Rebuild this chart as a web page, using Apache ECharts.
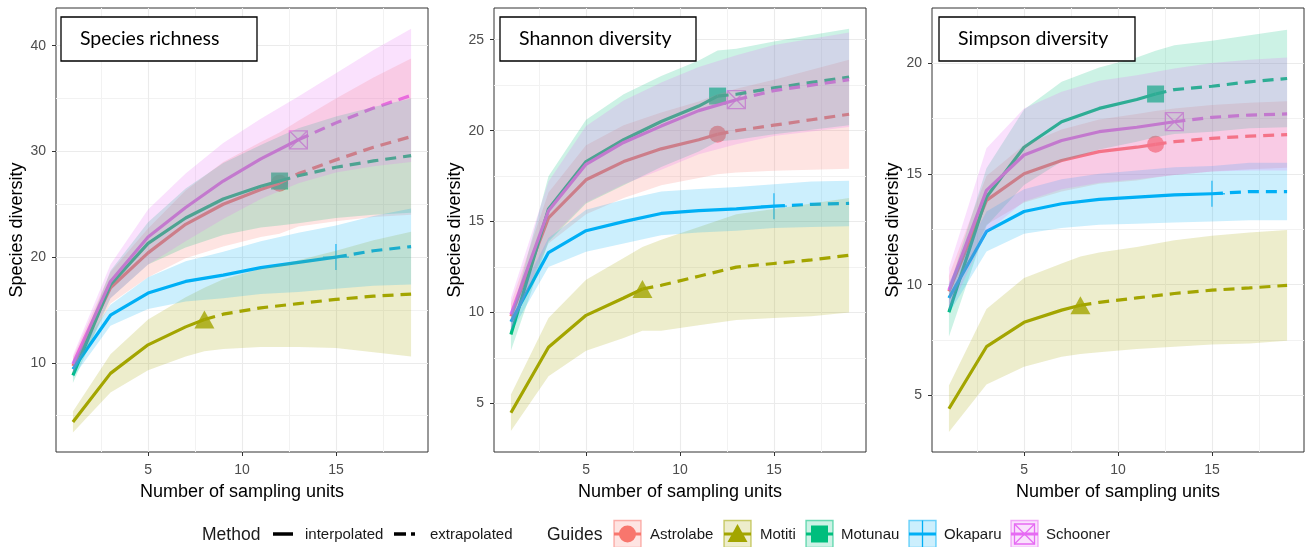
<!DOCTYPE html>
<html><head><meta charset="utf-8">
<script src="https://cdn.jsdelivr.net/npm/echarts@6/dist/echarts.min.js"></script>
<style>html,body{margin:0;padding:0;background:#fff}#chart{width:1309px;height:547px}</style>
</head><body><div id="chart"></div>
<script>
// ---------------- data ----------------
const guides = ['Astrolabe', 'Motiti', 'Motunau', 'Okaparu', 'Schooner'];
const guideColors = ['#F8766D', '#A3A500', '#00BF7D', '#00B0F6', '#E76BF3'];
const observedN = [12, 8, 12, 15, 13];
const samplingUnits = [
  [1, 3, 5, 7, 9, 11, 12, 13, 15, 17, 19],
  [1, 3, 5, 7, 8, 9, 11, 13, 15, 17, 19],
  [1, 3, 5, 7, 9, 11, 12, 13, 15, 17, 19],
  [1, 3, 5, 7, 9, 11, 13, 15, 17, 19],
  [1, 3, 5, 7, 9, 11, 13, 15, 17, 19]
];
const panelTitles = ['Species richness', 'Shannon diversity', 'Simpson diversity'];
const methodLabels = ['interpolated', 'extrapolated'];

const richnessMean = [
  [9.7, 17.1, 20.4, 23.1, 25.0, 26.4, 27.0, 27.9, 29.2, 30.4, 31.4],
  [4.4, 9.0, 11.7, 13.4, 14.1, 14.6, 15.2, 15.6, 16.0, 16.3, 16.5],
  [8.8, 17.4, 21.3, 23.7, 25.5, 26.7, 27.2, 27.7, 28.5, 29.1, 29.6],
  [9.4, 14.5, 16.6, 17.7, 18.3, 19.0, 19.5, 20.0, 20.6, 21.0],
  [9.9, 17.7, 21.9, 24.7, 27.2, 29.3, 31.1, 32.7, 34.1, 35.3]
];
const richnessLower = [
  [8.9, 15.6, 18.1, 19.9, 21.0, 21.9, 22.2, 22.9, 23.4, 23.8, 24.0],
  [3.4, 7.2, 9.3, 10.6, 11.1, 11.3, 11.5, 11.5, 11.4, 11.0, 10.6],
  [8.1, 16.1, 19.3, 20.9, 22.1, 22.8, 23.0, 23.2, 23.7, 24.0, 24.2],
  [8.6, 13.5, 15.1, 15.8, 16.1, 16.5, 16.7, 17.0, 17.3, 17.4],
  [9.1, 16.1, 19.3, 21.5, 23.6, 25.5, 27.0, 28.0, 28.6, 29.0]
];
const richnessUpper = [
  [10.5, 18.6, 22.7, 26.3, 29.0, 30.9, 31.8, 32.9, 35.0, 37.0, 38.8],
  [5.4, 10.8, 14.1, 16.2, 17.1, 17.9, 18.9, 19.7, 20.6, 21.6, 22.4],
  [9.5, 18.7, 23.3, 26.5, 28.9, 30.6, 31.4, 32.2, 33.3, 34.2, 35.0],
  [10.2, 15.5, 18.1, 19.6, 20.5, 21.5, 22.3, 23.0, 23.9, 24.6],
  [10.7, 19.3, 24.5, 27.9, 30.8, 33.1, 35.2, 37.4, 39.6, 41.6]
];

const shannonMean = [
  [9.8, 15.2, 17.3, 18.3, 19.0, 19.5, 19.8, 20.0, 20.3, 20.6, 20.9],
  [4.5, 8.1, 9.85, 10.8, 11.3, 11.5, 12.0, 12.5, 12.7, 12.9, 13.15],
  [8.8, 15.7, 18.3, 19.5, 20.5, 21.35, 21.9, 22.0, 22.35, 22.65, 22.95],
  [9.5, 13.3, 14.5, 15.0, 15.45, 15.6, 15.7, 15.85, 15.95, 16.0],
  [9.9, 15.6, 18.15, 19.35, 20.25, 21.1, 21.7, 22.2, 22.5, 22.8]
];
const shannonLower = [
  [9.1, 13.8, 15.4, 16.3, 17.0, 17.4, 17.6, 17.7, 17.8, 17.85, 17.9],
  [3.5, 6.5, 7.9, 8.6, 9.0, 9.0, 9.3, 9.6, 9.7, 9.8, 10.0],
  [7.9, 13.9, 16.0, 17.0, 18.0, 18.85, 19.4, 19.5, 19.8, 20.05, 20.3],
  [8.9, 12.5, 13.35, 13.8, 14.25, 14.4, 14.5, 14.65, 14.7, 14.75],
  [9.0, 14.0, 16.05, 17.05, 17.85, 18.7, 19.25, 19.7, 19.95, 20.2]
];
const shannonUpper = [
  [10.5, 16.6, 19.2, 20.3, 21.0, 21.6, 22.0, 22.3, 22.8, 23.35, 23.9],
  [5.5, 9.7, 11.8, 13.0, 13.6, 14.0, 14.7, 15.4, 15.7, 16.0, 16.3],
  [9.7, 17.5, 20.6, 22.0, 23.0, 23.85, 24.4, 24.5, 24.9, 25.25, 25.6],
  [10.1, 14.1, 15.65, 16.2, 16.65, 16.8, 16.9, 17.05, 17.2, 17.25],
  [10.8, 17.2, 20.25, 21.65, 22.65, 23.5, 24.15, 24.7, 25.05, 25.4]
];

const simpsonMean = [
  [9.7, 13.8, 15.0, 15.6, 16.0, 16.2, 16.33, 16.45, 16.6, 16.7, 16.77],
  [4.4, 7.2, 8.3, 8.85, 9.07, 9.2, 9.4, 9.6, 9.75, 9.85, 9.97],
  [8.75, 13.95, 16.2, 17.35, 17.95, 18.35, 18.6, 18.8, 18.95, 19.15, 19.3],
  [9.4, 12.4, 13.3, 13.65, 13.85, 13.95, 14.05, 14.1, 14.2, 14.2],
  [9.75, 14.25, 15.85, 16.5, 16.9, 17.1, 17.35, 17.55, 17.65, 17.7]
];
const simpsonLower = [
  [9.0, 12.7, 13.7, 14.2, 14.55, 14.7, 14.83, 14.95, 15.1, 15.2, 15.27],
  [3.35, 5.5, 6.3, 6.75, 6.87, 6.95, 7.1, 7.2, 7.3, 7.35, 7.47],
  [7.65, 12.65, 14.5, 15.55, 16.1, 16.45, 16.65, 16.8, 16.9, 17.05, 17.1],
  [8.7, 11.5, 12.3, 12.55, 12.7, 12.75, 12.8, 12.85, 12.9, 12.9],
  [8.75, 12.35, 13.75, 14.3, 14.6, 14.75, 14.95, 15.1, 15.15, 15.15]
];
const simpsonUpper = [
  [10.4, 14.9, 16.3, 17.0, 17.45, 17.7, 17.83, 17.95, 18.1, 18.2, 18.27],
  [5.45, 8.9, 10.3, 10.95, 11.27, 11.45, 11.7, 12.0, 12.2, 12.35, 12.47],
  [9.85, 15.25, 17.9, 19.15, 19.8, 20.25, 20.55, 20.8, 21.0, 21.25, 21.5],
  [10.1, 13.3, 14.3, 14.75, 15.0, 15.15, 15.3, 15.35, 15.5, 15.5],
  [10.75, 16.15, 17.95, 18.7, 19.2, 19.45, 19.75, 20.0, 20.15, 20.25]
];

const xTicks = [5, 10, 15];
const xMinorTicks = [2.5, 7.5, 12.5, 17.5];
const yTicks = [[10, 20, 30, 40], [5, 10, 15, 20, 25], [5, 10, 15, 20]];
const yMinorTicks = [[5, 15, 25, 35], [7.5, 12.5, 17.5, 22.5], [7.5, 12.5, 17.5]];

// ---------------- layout ----------------
const X_RANGE = [0.1, 19.9];
const Y_RANGES = [[1.56, 43.57], [2.34, 26.74], [2.45, 22.48]];
const GRID_LEFT = [56, 494, 932];
const GRID_TOP = 8, GRID_W = 372, GRID_H = 444;
const AXFONT = '"Liberation Sans", Arial, sans-serif';

const panelMeans = [richnessMean, shannonMean, simpsonMean];
const panelLowers = [richnessLower, shannonLower, simpsonLower];
const panelUppers = [richnessUpper, shannonUpper, simpsonUpper];

const PLUS = 'path://M12,0L12,24M0,12L24,12';
const BOXX = 'path://M0,0L24,0L24,24L0,24ZM0,0L24,24M24,0L0,24';
const guideSymbols = ['circle', 'triangle', 'rect', PLUS, BOXX];
const guideSymbolSizes = [17, [20, 18], 17, 26, 18];
const hollow = [false, false, false, true, true];

function rgba(hex, a) {
  const v = parseInt(hex.slice(1), 16);
  return 'rgba(' + ((v >> 16) & 255) + ',' + ((v >> 8) & 255) + ',' + (v & 255) + ',' + a + ')';
}

const grids = [], xAxes = [], yAxes = [], series = [];
for (let p = 0; p < 3; p++) {
  grids.push({left: GRID_LEFT[p], top: GRID_TOP, width: GRID_W, height: GRID_H,
    show: true, borderColor: '#333', borderWidth: 1, backgroundColor: '#fff'});
  xAxes.push({
    gridIndex: p, type: 'value', min: X_RANGE[0], max: X_RANGE[1],
    axisLine: {show: false},
    axisTick: {show: true, customValues: xTicks, length: 4, lineStyle: {color: '#333', width: 1}},
    axisLabel: {customValues: xTicks, color: '#4D4D4D', fontSize: 14, margin: 11, fontFamily: AXFONT},
    splitLine: {show: true, lineStyle: {color: '#EBEBEB', width: 1.1}},
    name: 'Number of sampling units', nameLocation: 'middle', nameGap: 31,
    nameTextStyle: {fontSize: 18, color: '#000', fontFamily: AXFONT}
  });
  xAxes.push({
    gridIndex: p, type: 'value', min: X_RANGE[0], max: X_RANGE[1],
    axisLine: {show: false}, axisLabel: {show: false},
    axisTick: {show: false, customValues: xMinorTicks},
    splitLine: {show: true, lineStyle: {color: '#F2F2F2', width: 1}}
  });
  yAxes.push({
    gridIndex: p, type: 'value', min: Y_RANGES[p][0], max: Y_RANGES[p][1],
    axisLine: {show: false},
    axisTick: {show: true, customValues: yTicks[p], length: 4, lineStyle: {color: '#333', width: 1}},
    axisLabel: {customValues: yTicks[p], color: '#4D4D4D', fontSize: 14, margin: 10, fontFamily: AXFONT},
    splitLine: {show: true, lineStyle: {color: '#EBEBEB', width: 1.1}},
    name: 'Species diversity', nameLocation: 'middle', nameGap: 29,
    nameTextStyle: {fontSize: 18, color: '#000', fontFamily: AXFONT}
  });
  yAxes.push({
    gridIndex: p, type: 'value', min: Y_RANGES[p][0], max: Y_RANGES[p][1],
    axisLine: {show: false}, axisLabel: {show: false},
    axisTick: {show: false, customValues: yMinorTicks[p]},
    splitLine: {show: true, lineStyle: {color: '#F2F2F2', width: 1}}
  });
  const xi = p * 2, yi = p * 2;
  for (let g = 0; g < guides.length; g++) {
    const xs = samplingUnits[g], m = panelMeans[p][g];
    const c = guideColors[g];
    const k = xs.indexOf(observedN[g]);
    const interp = xs.slice(0, k + 1).map((x, i) => [x, m[i]]);
    const extrap = xs.slice(k).map((x, i) => [x, m[k + i]]);
    // observed point (drawn first, under the lines)
    series.push({
      type: 'scatter', xAxisIndex: xi, yAxisIndex: yi, z: 2, silent: true,
      symbol: guideSymbols[g], symbolSize: guideSymbolSizes[g],
      itemStyle: hollow[g] ? {color: 'rgba(0,0,0,0)', borderColor: c, borderWidth: 1.3} : {color: c},
      data: [[observedN[g], m[k]]]
    });
    series.push({
      type: 'line', xAxisIndex: xi, yAxisIndex: yi, z: 3, silent: true, symbol: 'none',
      lineStyle: {color: c, width: 3.2, type: 'solid'}, data: interp
    });
    series.push({
      type: 'line', xAxisIndex: xi, yAxisIndex: yi, z: 3, silent: true, symbol: 'none',
      lineStyle: {color: c, width: 3.2, type: [11, 7]}, data: extrap
    });
  }
  // ribbons on top (as in the original layering)
  for (let g = 0; g < guides.length; g++) {
    const xs = samplingUnits[g], lo = panelLowers[p][g], up = panelUppers[p][g];
    const fill = rgba(guideColors[g], 0.2);
    series.push({
      type: 'custom', xAxisIndex: xi, yAxisIndex: yi, z: 4, silent: true,
      data: xs.map((x, i) => [x, lo[i], up[i]]),
      encode: {x: 0, y: [1, 2]},
      renderItem: function (params, api) {
        if (params.dataIndex !== 0) return null;
        const pts = [];
        for (let i = 0; i < xs.length; i++) pts.push(api.coord([xs[i], up[i]]));
        for (let i = xs.length - 1; i >= 0; i--) pts.push(api.coord([xs[i], lo[i]]));
        return {type: 'polygon', shape: {points: pts}, style: {fill: fill}};
      }
    });
  }
}

// ---------------- panel title boxes and legend ----------------
const graphic = [];
const TITLE_OFFSET = [5, 6, 7];
for (let p = 0; p < 3; p++) {
  const bx = GRID_LEFT[p] + TITLE_OFFSET[p];
  graphic.push({type: 'rect', z: 100, shape: {x: bx, y: 17, width: 196, height: 44},
    style: {fill: '#fff', stroke: '#000', lineWidth: 1.3}});
  graphic.push({type: 'text', z: 101, x: bx + 19, y: 39,
    style: {text: panelTitles[p], font: '19.5px Lato, "Open Sans", sans-serif', fill: '#000',
      textVerticalAlign: 'middle', verticalAlign: 'middle'}});
}
const LY = 534;
const txt = (x, s, size) => ({type: 'text', x: x, y: LY + 1,
  style: {text: s, font: size + 'px ' + AXFONT, fill: '#1A1A1A', textVerticalAlign: 'middle', verticalAlign: 'middle'}});
graphic.push(txt(202, 'Method', 17.5));
graphic.push({type: 'line', shape: {x1: 273, y1: LY, x2: 293, y2: LY}, style: {stroke: '#000', lineWidth: 3.5}});
graphic.push(txt(305, methodLabels[0], 15));
graphic.push({type: 'line', shape: {x1: 394, y1: LY, x2: 415, y2: LY}, style: {stroke: '#000', lineWidth: 3.5, lineDash: [12, 5]}});
graphic.push(txt(430, methodLabels[1], 15));
graphic.push(txt(547, 'Guides', 17.5));
const KEY_X = [614, 724, 806, 909, 1011];
const LABEL_X = [650, 760, 841, 944, 1046];
for (let g = 0; g < guides.length; g++) {
  const c = guideColors[g], s = 27, x0 = KEY_X[g], y0 = LY - s / 2, cx = x0 + s / 2, cy = LY;
  graphic.push({type: 'line', shape: {x1: x0, y1: cy, x2: x0 + s, y2: cy}, style: {stroke: c, lineWidth: 3}});
  if (g === 0) graphic.push({type: 'circle', shape: {cx: cx, cy: cy, r: 8.5}, style: {fill: c}});
  if (g === 1) graphic.push({type: 'polygon', shape: {points: [[cx - 10, cy + 8], [cx + 10, cy + 8], [cx, cy - 10]]}, style: {fill: c}});
  if (g === 2) graphic.push({type: 'rect', shape: {x: cx - 8.5, y: cy - 8.5, width: 17, height: 17}, style: {fill: c}});
  if (g === 3) graphic.push({type: 'line', shape: {x1: cx, y1: y0, x2: cx, y2: y0 + s}, style: {stroke: c, lineWidth: 1.3}});
  if (g === 4) {
    graphic.push({type: 'rect', shape: {x: cx - 10, y: cy - 10, width: 20, height: 20}, style: {fill: 'none', stroke: c, lineWidth: 1.3}});
    graphic.push({type: 'polyline', shape: {points: [[cx - 10, cy - 10], [cx + 10, cy + 10]]}, style: {stroke: c, lineWidth: 1.3}});
    graphic.push({type: 'polyline', shape: {points: [[cx + 10, cy - 10], [cx - 10, cy + 10]]}, style: {stroke: c, lineWidth: 1.3}});
  }
  graphic.push({type: 'rect', shape: {x: x0, y: y0, width: s, height: s},
    style: {fill: rgba(c, 0.2), stroke: rgba(c, 0.55), lineWidth: 1.4}});
  graphic.push(txt(LABEL_X[g], guides[g], 15));
}

const chart = echarts.init(document.getElementById('chart'), null, {renderer: 'canvas'});
chart.setOption({
  animation: false,
  backgroundColor: '#fff',
  grid: grids, xAxis: xAxes, yAxis: yAxes, series: series, graphic: graphic
});
</script></body></html>
